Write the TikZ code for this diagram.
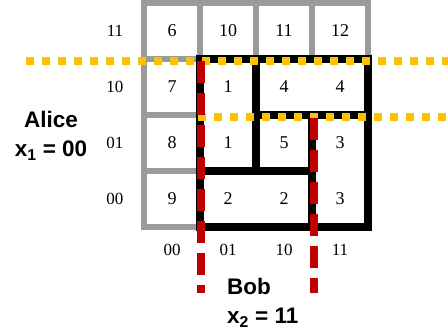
\documentclass[tikz,border=0pt]{standalone}
\usepackage{fontspec}
\setmainfont{Liberation Serif}
\newfontfamily\partyfont{Liberation Sans}
\definecolor{cellgray}{RGB}{155,155,155}
\definecolor{bobred}{RGB}{192,0,0}
\definecolor{alicegold}{RGB}{255,192,0}
\tikzset{
  cell/.style={draw=cellgray,fill=white,line width=6pt,minimum size=56pt,
    inner sep=0pt,font=\fontsize{18}{18}\selectfont},
  block/.style={draw=black,fill=white,line width=8pt},
  val/.style={inner sep=0pt,font=\fontsize{18}{18}\selectfont},
  tick/.style={inner sep=0pt,font=\fontsize{17}{17}\selectfont},
  bobcut/.style={draw=bobred,line width=8pt,dash pattern=on 22pt off 10pt},
  alicecut/.style={draw=alicegold,line width=8pt,dash pattern=on 8pt off 8pt},
  party/.style={inner sep=0pt,font=\fontsize{22.5}{29}\selectfont\partyfont\bfseries},
}
\begin{document}
\begin{tikzpicture}[x=1pt,y=-1pt]
  \useasboundingbox (0,0) rectangle (448,331);
  % cells outside the partition
  \foreach \v/\x/\y in {6/172/31,10/228/31,11/284/31,12/340/31,7/172/87,8/172/143,9/172/199}
    \node[cell] (c\v) at (\x,\y) {\v};
  % monochromatic rectangles
  \draw[block] (200,59) rectangle (256,171);
  \draw[block] (256,59) rectangle (368,115);
  \draw[block] (256,115) rectangle (312,171);
  \draw[block] (312,115) rectangle (368,227);
  \draw[block] (200,171) rectangle (312,227);
  \foreach \v/\n/\x/\y in {1/a/228/87,1/b/228/143,4/a/284/87,4/b/340/87,5/a/284/143,
      3/a/340/143,3/b/340/199,2/a/228/199,2/b/284/199}
    \node[val] (v\v\n) at (\x,\y) {\v};
  % inputs
  \foreach \r/\y in {11/31,10/87,01/143,00/199}
    \node[tick] (row\r) at (115,\y) {\r};
  \foreach \c/\x in {00/172,01/228,10/284,11/340}
    \node[tick] (col\c) at (\x,250) {\c};
  % cuts
  \draw[alicecut] (26,61) -- (448,61);
  \draw[alicecut] (198,117) -- (448,117);
  \draw[bobcut] (201,61) -- (201,293);
  \draw[bobcut] (314,118) -- (314,293);
  \node[party,align=center] (alice) at (51,136) {Alice\\x\textsubscript{1} = 00};
  \node[party,align=left,anchor=west] (bob) at (227,303) {Bob\\x\textsubscript{2} = 11};
\end{tikzpicture}
\end{document}
